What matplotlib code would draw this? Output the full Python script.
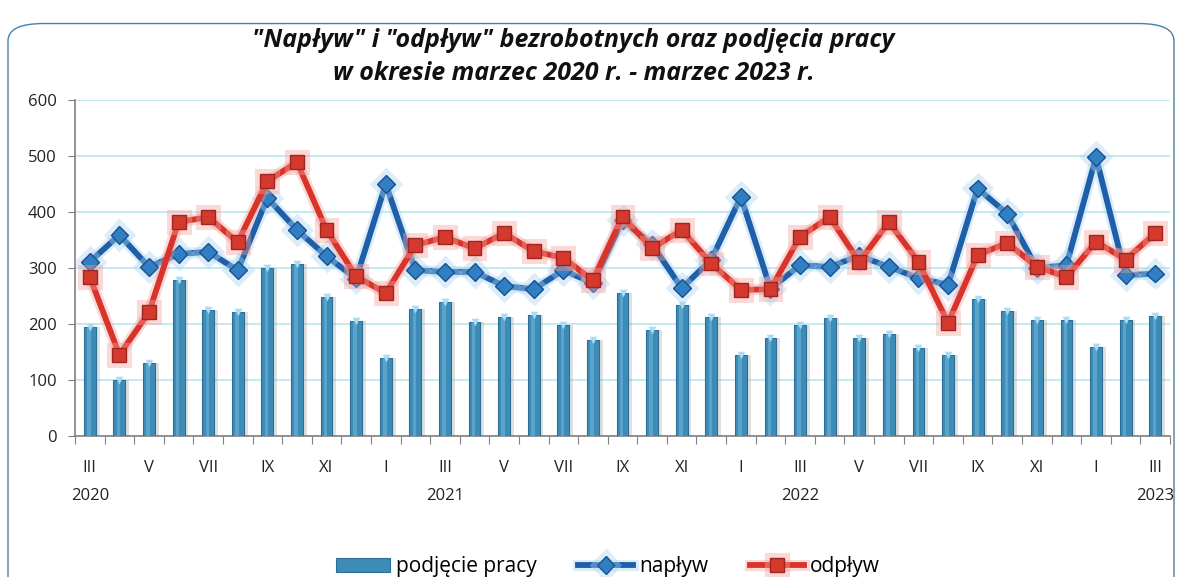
import matplotlib
matplotlib.use("Agg")
import matplotlib.pyplot as plt
import matplotlib.patheffects as pe
from matplotlib.patches import FancyBboxPatch
import numpy as np

months = ["III", "IV", "V", "VI", "VII", "VIII", "IX", "X", "XI", "XII",
          "I", "II", "III", "IV", "V", "VI", "VII", "VIII", "IX", "X", "XI", "XII",
          "I", "II", "III", "IV", "V", "VI", "VII", "VIII", "IX", "X", "XI", "XII",
          "I", "II", "III"]
years = {0: "2020", 12: "2021", 24: "2022", 36: "2023"}

podjecie = [195, 100, 130, 278, 225, 222, 300, 307, 248, 205, 139, 227,
            240, 203, 212, 216, 198, 171, 255, 189, 234, 212, 145, 175,
            198, 211, 175, 182, 157, 145, 245, 223, 207, 207, 159, 207, 214]
naplyw = [311, 359, 302, 325, 329, 296, 425, 368, 321, 281, 450, 296,
          293, 293, 268, 262, 296, 273, 385, 342, 264, 315, 427, 263,
          305, 302, 322, 302, 282, 270, 442, 397, 300, 305, 498, 287, 290]
odplyw = [284, 145, 221, 382, 391, 346, 455, 489, 368, 285, 255, 341,
          355, 335, 362, 330, 318, 278, 392, 335, 368, 308, 261, 262,
          356, 391, 311, 382, 311, 202, 323, 345, 302, 284, 347, 315, 362]

plt.rcParams['font.family'] = ['Open Sans', 'DejaVu Sans']

fig = plt.figure(figsize=(11.8, 5.77), dpi=100)
ax = fig.add_axes([75 / 1180, 1 - 436 / 577, (1170 - 75) / 1180, (436 - 100) / 577])

x = np.arange(len(months))

# bar shadows
ax.bar(x + 0.12, podjecie, width=0.42, color='#9a9a9a', alpha=0.3, zorder=2, linewidth=0)
ax.bar(x, podjecie, width=0.4, color='#3d8cb8', edgecolor='#2b6f96', linewidth=0.8,
       zorder=3, label='podjecie pracy')
ax.bar(x - 0.03, podjecie, width=0.12, color='#6fb3d9', alpha=0.6, zorder=3.5, linewidth=0)
ax.scatter(x, podjecie, marker='v', s=30, color='#a9dcf5', zorder=3.6, linewidths=0)

blue_glow = [pe.Stroke(linewidth=8, foreground='#a8d4f2', alpha=0.4), pe.Normal()]
red_glow = [pe.Stroke(linewidth=8, foreground='#f4a09a', alpha=0.4), pe.Normal()]

ax.plot(x, naplyw, color='#1f5ea8', lw=4.2, marker='D', markersize=9,
        markerfacecolor='#2f7fc2', markeredgecolor='#1b4f8f', zorder=5,
        path_effects=blue_glow, label='napływ')
ax.plot(x, odplyw, color='#d9342b', lw=4.2, marker='s', markersize=10,
        markerfacecolor='#d4392e', markeredgecolor='#9e2520', zorder=6,
        path_effects=red_glow, label='odpływ')

ax.set_xlim(-0.5, len(months) - 0.5)
ax.set_ylim(0, 600)
ax.set_yticks(range(0, 601, 100))
ax.yaxis.grid(True, color='#b9e6f2', linewidth=1.2, zorder=0)
ax.set_axisbelow(True)
for s in ['top', 'right']:
    ax.spines[s].set_visible(False)
ax.spines['left'].set_color('#808080')
ax.spines['bottom'].set_color('#808080')
ax.spines['left'].set_linewidth(1.2)
ax.spines['bottom'].set_linewidth(1.2)
ax.tick_params(axis='y', labelsize=12, colors='#222222', length=5, color='#808080', pad=8)

# category boundary ticks
ax.set_xticks(np.arange(-0.5, len(months), 1.0))
ax.set_xticklabels([])
ax.tick_params(axis='x', length=6, color='#808080', direction='out')

for i in range(0, len(months), 2):
    ax.text(i, -0.095, months[i], transform=ax.get_xaxis_transform(), ha='center', va='center',
            fontsize=12, color='#222222')
for i, yv in years.items():
    ax.text(i, -0.18, yv, transform=ax.get_xaxis_transform(), ha='center', va='center',
            fontsize=12, color='#222222')

fig.text(0.486, 0.93, '"Napływ" i "odpływ" bezrobotnych oraz podjęcia pracy',
         ha='center', va='center', fontsize=18, fontweight='bold', fontstyle='italic', color='#111111')
fig.text(0.486, 0.873, 'w okresie marzec 2020 r. - marzec 2023 r.',
         ha='center', va='center', fontsize=18, fontweight='bold', fontstyle='italic', color='#111111')

handles, labels = ax.get_legend_handles_labels()
order = [labels.index('podjecie pracy'), labels.index('napływ'), labels.index('odpływ')]
fig.legend([handles[k] for k in order], ['podjęcie pracy', 'napływ', 'odpływ'],
           loc='center', bbox_to_anchor=(0.515, 0.018), ncol=3, frameon=False,
           fontsize=15, handlelength=2.6, columnspacing=2.0, handletextpad=0.3)

frame = FancyBboxPatch((8 / 1180, -0.05), 1166 / 1180, 1.03 - 12 / 577,
                       boxstyle='round,pad=0,rounding_size=0.03', transform=fig.transFigure,
                       fill=False, edgecolor='#4a7fa8', linewidth=1.0, clip_on=False)
fig.patches.append(frame)

fig.savefig('out.png', dpi=100)
